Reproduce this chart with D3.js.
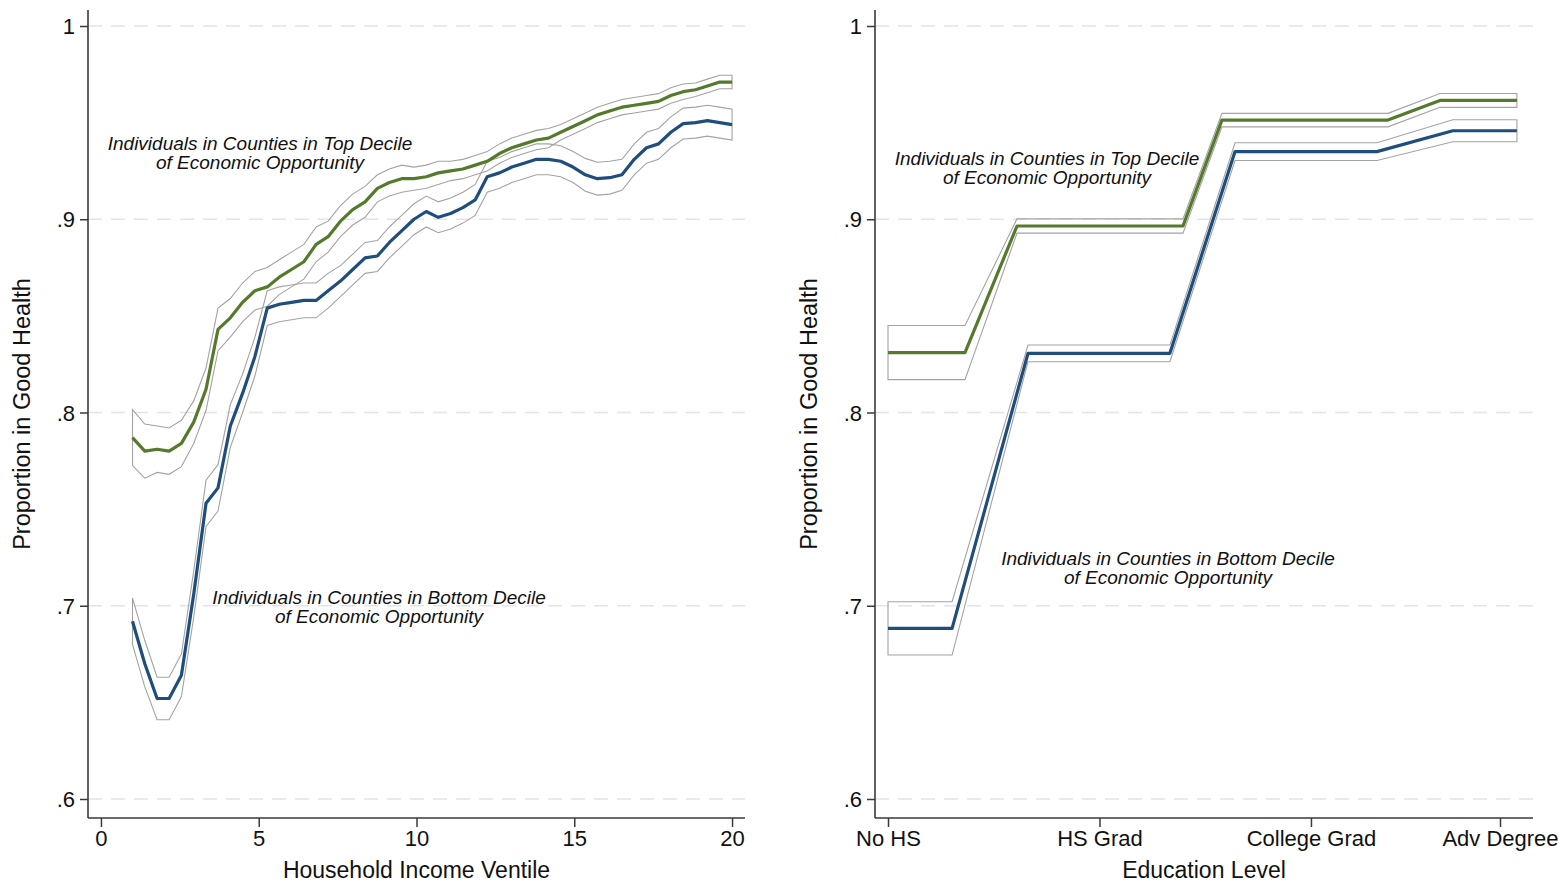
<!DOCTYPE html>
<html>
<head>
<meta charset="utf-8">
<script src="https://cdn.jsdelivr.net/npm/d3@7"></script>
<style>
  html, body { margin: 0; padding: 0; background: #fff; }
  svg { display: block; font-family: "Liberation Sans", Arial, Helvetica, sans-serif; }
</style>
</head>
<body>
<svg id="chart" width="1559" height="882"></svg>
<script>
// ---------------- DATA ----------------
// Left panel: household income ventile (x) vs proportion in good health
const ventile = [1.00, 1.39, 1.78, 2.16, 2.55, 2.94, 3.33, 3.71, 4.10, 4.49,
  4.88, 5.27, 5.65, 6.04, 6.43, 6.82, 7.20, 7.59, 7.98, 8.37,
  8.76, 9.14, 9.53, 9.92, 10.31, 10.69, 11.08, 11.47, 11.86, 12.24,
  12.63, 13.02, 13.41, 13.80, 14.18, 14.57, 14.96, 15.35, 15.73, 16.12,
  16.51, 16.90, 17.29, 17.67, 18.06, 18.45, 18.84, 19.22, 19.61, 20.00];
const topIncome = [.787, .780, .781, .780, .784, .795, .812, .843, .849, .857,
  .863, .865, .870, .874, .878, .887, .891, .899, .905, .909,
  .916, .919, .921, .921, .922, .924, .925, .926, .928, .930,
  .934, .937, .939, .941, .942, .945, .948, .951, .954, .956,
  .958, .959, .960, .961, .964, .966, .967, .969, .971, .971];
const topIncomeCI = [.0145, .014, .012, .012, .012, .011, .011, .011, .010, .010,
  .010, .010, .009, .009, .009, .009, .008, .008, .008, .008,
  .007, .007, .007, .006, .006, .006, .005, .005, .005, .005,
  .005, .005, .005, .005, .005, .004, .004, .004, .004, .004,
  .004, .004, .004, .004, .004, .004, .0035, .0035, .0035, .0035];
const bottomIncome = [.692, .670, .652, .652, .664, .706, .753, .761, .793, .810,
  .829, .854, .856, .857, .858, .858, .863, .868, .874, .880,
  .881, .888, .894, .900, .904, .901, .903, .906, .910, .922,
  .924, .927, .929, .931, .931, .930, .927, .923, .921, .9215,
  .923, .931, .937, .939, .945, .9495, .950, .951, .950, .949];
const bottomIncomeCI = [.012, .012, .011, .011, .011, .012, .012, .012, .011, .010,
  .010, .009, .009, .009, .009, .009, .009, .008, .008, .008,
  .008, .008, .008, .008, .008, .008, .008, .008, .008, .008,
  .008, .008, .008, .008, .008, .008, .008, .0085, .0085, .0085,
  .008, .008, .008, .008, .008, .008, .008, .008, .008, .008];
const incomeTicks = [0, 5, 10, 15, 20];

// Right panel: education level
const eduTickLabels = ["No HS", "HS Grad", "College Grad", "Adv Degree"];
const eduTickPos = [0, 1, 2, 2.894];
const eduTopX = [0, 0.364, 0.610, 1.395, 1.579, 2.364, 2.610, 2.974];
const eduTop = [.831, .831, .8965, .8965, .9513, .9513, .9615, .9615];
const eduTopCI = [.014, .014, .0037, .0037, .0035, .0035, .0036, .0036];
const eduBottomX = [0, 0.303, 0.662, 1.333, 1.641, 2.312, 2.671, 2.974];
const eduBottom = [.6883, .6883, .8306, .8306, .935, .935, .9458, .9458];
const eduBottomCI = [.0138, .0138, .0043, .0043, .0046, .0046, .0057, .0057];

const yTicks = [0.6, 0.7, 0.8, 0.9, 1.0];
const yTitle = "Proportion in Good Health";
const topLabel = ["Individuals in Counties in Top Decile", "of Economic Opportunity"];
const bottomLabel = ["Individuals in Counties in Bottom Decile", "of Economic Opportunity"];

// ---------------- STYLE ----------------
const GREEN = "#557a2c";
const BLUE = "#1f4e7c";
const CI_COLOR = "#a3a3a3";
const GRID = "#e4e4e4";
const AXIS = "#3a3a3a";

const svg = d3.select("#chart");

const y = d3.scaleLinear().domain([0.6, 1.0]).range([799, 26]);
const yTop = 10, yBottom = 818;

function yFmt(d) { return d === 1 ? "1" : d3.format(".1f")(d).replace(/^0/, ""); }

function panel(opts) {
  const g = svg.append("g");
  const x = opts.x;
  const [x0, x1] = x.range();

  // gridlines
  g.append("g").selectAll("line").data(yTicks).join("line")
    .attr("x1", x0).attr("x2", x1)
    .attr("y1", d => y(d)).attr("y2", d => y(d))
    .attr("stroke", GRID).attr("stroke-width", 1.6)
    .attr("stroke-dasharray", "14,9");

  const line = d3.line().x(d => x(d[0])).y(d => y(d[1]));

  opts.series.forEach(s => {
    const lo = s.xs.map((xv, i) => [xv, s.vals[i] - s.ci[i]]);
    const hi = s.xs.map((xv, i) => [xv, s.vals[i] + s.ci[i]]);
    const mid = s.xs.map((xv, i) => [xv, s.vals[i]]);
    // CI as a closed outline (vertical end caps)
    const outline = hi.concat(lo.slice().reverse());
    g.append("path").attr("d", line(outline) + "Z")
      .attr("fill", "none").attr("stroke", CI_COLOR).attr("stroke-width", 1.1);
    s.mid = mid;
  });
  opts.series.forEach(s => {
    g.append("path").attr("d", line(s.mid))
      .attr("fill", "none").attr("stroke", s.color).attr("stroke-width", 3.2)
      .attr("stroke-linejoin", "round");
  });

  // y axis
  const ya = g.append("g").attr("transform", `translate(${x0},0)`)
    .call(d3.axisLeft(y).tickValues(yTicks).tickFormat(yFmt).tickSize(8).tickPadding(5));
  ya.select(".domain").remove();
  ya.selectAll(".tick line").attr("stroke", AXIS).attr("stroke-width", 1.5);
  ya.selectAll("text").attr("font-size", 22).attr("fill", "#111").attr("dy", "0.35em");

  // x axis
  const xa = g.append("g").attr("transform", `translate(0,${yBottom})`)
    .call(d3.axisBottom(x).tickValues(opts.xTicks).tickFormat(opts.xFmt).tickSize(9).tickPadding(3));
  xa.select(".domain").remove();
  xa.selectAll(".tick line").attr("stroke", AXIS).attr("stroke-width", 1.5);
  xa.selectAll("text").attr("font-size", 22).attr("fill", "#111");

  // axis lines
  g.append("line").attr("x1", x0).attr("x2", x0).attr("y1", yTop).attr("y2", yBottom)
    .attr("stroke", AXIS).attr("stroke-width", 1.6);
  g.append("line").attr("x1", x0).attr("x2", x1).attr("y1", yBottom).attr("y2", yBottom)
    .attr("stroke", AXIS).attr("stroke-width", 1.6);

  // titles
  g.append("text").attr("x", (x0 + x1) / 2).attr("y", 878)
    .attr("text-anchor", "middle").attr("font-size", 23).attr("fill", "#111")
    .text(opts.xTitle);
  g.append("text")
    .attr("transform", `translate(${opts.yTitleX},${(yTop + yBottom) / 2}) rotate(-90)`)
    .attr("text-anchor", "middle").attr("font-size", 23.5).attr("fill", "#111")
    .text(yTitle);

  // annotations
  opts.labels.forEach(l => {
    const t = g.append("text").attr("text-anchor", "middle")
      .attr("font-size", 19).attr("font-style", "italic").attr("fill", "#111");
    l.lines.forEach((s, i) => {
      t.append("tspan").attr("x", l.cx).attr("y", l.y + i * 19).text(s);
    });
  });
}

// Left panel
panel({
  x: d3.scaleLinear().domain([-0.41, 20.41]).range([88, 745]),
  xTicks: incomeTicks,
  xFmt: d3.format("d"),
  xTitle: "Household Income Ventile",
  yTitleX: 30,
  series: [
    { xs: ventile, vals: topIncome, ci: topIncomeCI, color: GREEN },
    { xs: ventile, vals: bottomIncome, ci: bottomIncomeCI, color: BLUE }
  ],
  labels: [
    { lines: topLabel, cx: 260, y: 150 },
    { lines: bottomLabel, cx: 379, y: 604 }
  ]
});

// Right panel
panel({
  x: d3.scaleLinear().domain([-0.0615, 3.05]).range([875, 1533]),
  xTicks: eduTickPos,
  xFmt: (d, i) => eduTickLabels[i],
  xTitle: "Education Level",
  yTitleX: 817,
  series: [
    { xs: eduTopX, vals: eduTop, ci: eduTopCI, color: GREEN },
    { xs: eduBottomX, vals: eduBottom, ci: eduBottomCI, color: BLUE }
  ],
  labels: [
    { lines: topLabel, cx: 1047, y: 165 },
    { lines: bottomLabel, cx: 1168, y: 565 }
  ]
});
</script>
</body>
</html>
